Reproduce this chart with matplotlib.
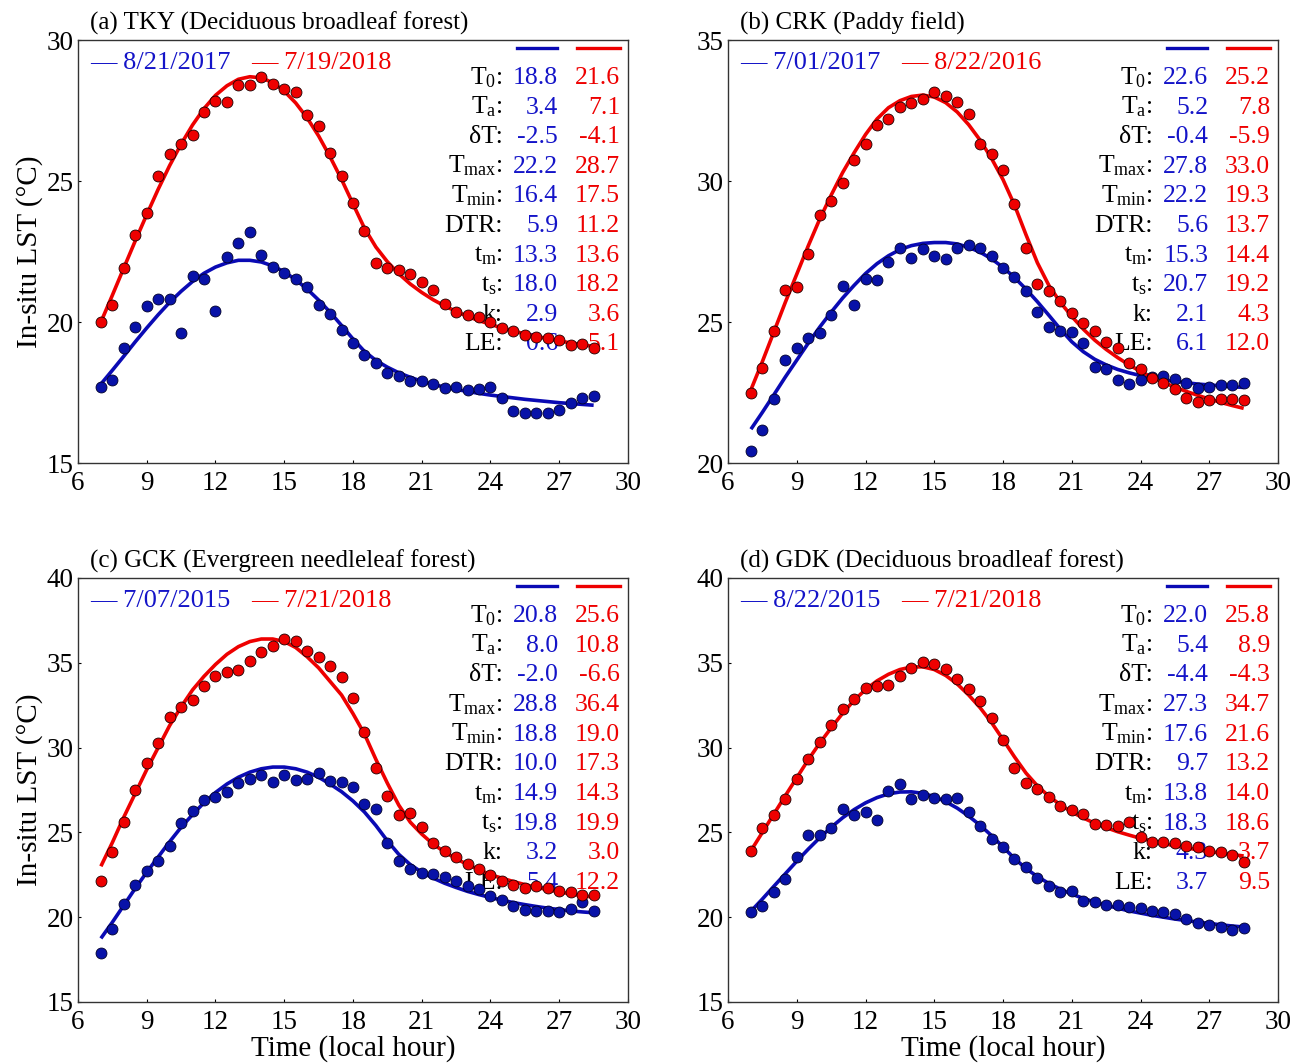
import numpy as np
import matplotlib
matplotlib.use('Agg')
import matplotlib.pyplot as plt

plt.rcParams['font.family'] = ['Liberation Serif', 'DejaVu Serif']
plt.rcParams['mathtext.fontset'] = 'custom'
plt.rcParams['mathtext.rm'] = 'Liberation Serif'
plt.rcParams['mathtext.it'] = 'Liberation Serif:italic'

# half-hourly local time, 7:00 to 28:30
hours = np.arange(7, 28.75, 0.5)

# ---- (a) TKY ----
tky_blue_obs = [17.68, 17.95, 19.09, 19.81, 20.57, 20.80, 20.80, 19.61, 21.63, 21.53, 20.39, 22.29,
                22.82, 23.20, 22.39, 21.96, 21.75, 21.53, 21.23, 20.60, 20.28, 19.72, 19.25, 18.82,
                18.54, 18.18, 18.09, 17.91, 17.91, 17.81, 17.65, 17.71, 17.59, 17.63, 17.69, 17.30,
                16.86, 16.79, 16.79, 16.79, 16.89, 17.12, 17.30, 17.38]
tky_red_obs = [20.00, 20.60, 21.90, 23.07, 23.88, 25.17, 25.96, 26.30, 26.62, 27.44, 27.85, 27.80,
               28.40, 28.40, 28.70, 28.44, 28.27, 28.15, 27.35, 26.96, 25.99, 25.18, 24.21, 23.23,
               22.11, 21.92, 21.83, 21.70, 21.41, 21.14, 20.64, 20.37, 20.25, 20.19, 20.00, 19.78,
               19.68, 19.55, 19.46, 19.42, 19.36, 19.17, 19.21, 19.07]
tky_blue_fit = [17.80, 18.29, 18.79, 19.30, 19.79, 20.26, 20.70, 21.09, 21.44, 21.73, 21.95, 22.10,
                22.19, 22.19, 22.13, 21.99, 21.78, 21.50, 21.17, 20.78, 20.35, 19.88, 19.40, 18.96,
                18.64, 18.40, 18.20, 18.04, 17.90, 17.79, 17.69, 17.61, 17.54, 17.47, 17.41, 17.36,
                17.31, 17.26, 17.22, 17.18, 17.14, 17.11, 17.08, 17.05]
tky_red_fit = [20.00, 20.95, 21.92, 22.88, 23.81, 24.71, 25.55, 26.31, 26.99, 27.57, 28.04, 28.38,
               28.61, 28.70, 28.66, 28.49, 28.19, 27.77, 27.24, 26.60, 25.86, 25.06, 24.19, 23.33,
               22.66, 22.14, 21.71, 21.35, 21.05, 20.79, 20.57, 20.38, 20.20, 20.05, 19.92, 19.79,
               19.68, 19.58, 19.49, 19.41, 19.33, 19.26, 19.20, 19.13]

# ---- (b) CRK ----
crk_blue_obs = [20.41, 21.18, 22.28, 23.66, 24.07, 24.42, 24.62, 25.25, 26.27, 25.60, 26.54, 26.50,
                27.13, 27.64, 27.28, 27.60, 27.33, 27.24, 27.64, 27.72, 27.61, 27.33, 26.90, 26.60,
                26.10, 25.37, 24.81, 24.69, 24.66, 24.27, 23.42, 23.34, 22.95, 22.81, 22.95, 23.04,
                23.07, 22.97, 22.85, 22.65, 22.69, 22.75, 22.75, 22.83]
crk_red_obs = [22.48, 23.38, 24.69, 26.13, 26.23, 27.43, 28.81, 29.28, 29.93, 30.75, 31.32, 32.00,
               32.21, 32.62, 32.77, 32.91, 33.15, 33.00, 32.79, 32.38, 31.32, 30.97, 30.40, 29.17,
               27.63, 26.34, 26.11, 25.75, 25.33, 24.95, 24.69, 24.30, 24.07, 23.56, 23.34, 23.00,
               22.85, 22.62, 22.30, 22.16, 22.24, 22.28, 22.28, 22.24]
crk_blue_fit = [21.20, 21.80, 22.42, 23.05, 23.65, 24.25, 24.82, 25.35, 25.85, 26.30, 26.72, 27.07,
                27.35, 27.57, 27.71, 27.79, 27.82, 27.82, 27.77, 27.65, 27.48, 27.24, 26.94, 26.58,
                26.17, 25.72, 25.24, 24.75, 24.30, 23.95, 23.68, 23.48, 23.32, 23.20, 23.10, 23.02,
                22.95, 22.90, 22.85, 22.80, 22.77, 22.74, 22.71, 22.68]
crk_red_fit = [22.60, 23.60, 24.65, 25.70, 26.70, 27.70, 28.65, 29.50, 30.30, 31.00, 31.65, 32.20,
               32.60, 32.85, 33.00, 33.05, 32.98, 32.78, 32.45, 32.00, 31.45, 30.80, 30.05, 29.15,
               28.10, 27.10, 26.30, 25.70, 25.20, 24.75, 24.36, 24.03, 23.74, 23.48, 23.25, 23.04,
               22.86, 22.69, 22.54, 22.40, 22.27, 22.15, 22.04, 21.94]

# ---- (c) GCK ----
gck_blue_obs = [17.88, 19.30, 20.79, 21.87, 22.75, 23.32, 24.20, 25.54, 26.28, 26.91, 27.07, 27.36,
                27.89, 28.15, 28.38, 27.99, 28.38, 28.09, 28.15, 28.52, 28.03, 27.95, 27.66, 26.66,
                26.36, 24.36, 23.32, 22.85, 22.59, 22.53, 22.34, 22.16, 21.81, 21.67, 21.22, 21.02,
                20.63, 20.44, 20.38, 20.34, 20.28, 20.49, 20.89, 20.38]
gck_red_obs = [22.14, 23.83, 25.64, 27.50, 29.07, 30.25, 31.82, 32.41, 32.80, 33.64, 34.21, 34.47,
               34.60, 35.11, 35.64, 35.98, 36.43, 36.29, 35.68, 35.35, 34.82, 34.17, 32.94, 30.93,
               28.77, 27.15, 26.03, 26.13, 25.29, 24.40, 23.91, 23.52, 23.12, 22.83, 22.50, 22.14,
               21.87, 21.71, 21.81, 21.71, 21.55, 21.46, 21.32, 21.28]
gck_blue_fit = [18.75, 19.70, 20.70, 21.70, 22.65, 23.55, 24.45, 25.30, 26.05, 26.75, 27.35, 27.85,
                28.25, 28.55, 28.75, 28.85, 28.85, 28.75, 28.55, 28.25, 27.85, 27.40, 26.85, 26.20,
                25.40, 24.50, 23.70, 23.10, 22.65, 22.30, 22.00, 21.75, 21.52, 21.33, 21.16, 21.00,
                20.86, 20.74, 20.63, 20.53, 20.45, 20.37, 20.31, 20.26]
gck_red_fit = [23.00, 24.40, 25.90, 27.30, 28.70, 30.00, 31.30, 32.40, 33.40, 34.20, 34.90, 35.50,
               35.95, 36.25, 36.40, 36.40, 36.25, 35.90, 35.35, 34.70, 33.90, 33.10, 32.00, 30.80,
               29.30, 27.90, 26.60, 25.60, 24.90, 24.30, 23.85, 23.45, 23.10, 22.80, 22.50, 22.30,
               22.10, 21.92, 21.76, 21.62, 21.49, 21.37, 21.27, 21.18]

# ---- (d) GDK ----
gdk_blue_obs = [20.29, 20.65, 21.51, 22.25, 23.57, 24.82, 24.82, 25.27, 26.37, 26.04, 26.18, 25.75,
                27.45, 27.84, 26.96, 27.20, 27.00, 26.98, 27.00, 26.18, 25.39, 24.60, 24.16, 23.43,
                22.94, 22.29, 21.86, 21.51, 21.57, 20.98, 20.88, 20.73, 20.69, 20.59, 20.53, 20.39,
                20.29, 20.20, 19.90, 19.67, 19.55, 19.41, 19.27, 19.35]
gdk_red_obs = [23.92, 25.24, 26.02, 26.96, 28.14, 29.31, 30.35, 31.33, 32.25, 32.84, 33.53, 33.63,
               33.67, 34.22, 34.67, 35.04, 34.90, 34.61, 34.06, 33.43, 32.75, 31.73, 30.43, 28.78,
               27.90, 27.55, 27.06, 26.53, 26.31, 26.08, 25.49, 25.43, 25.35, 25.60, 24.75, 24.45,
               24.41, 24.35, 24.22, 24.12, 23.92, 23.86, 23.67, 23.24]
gdk_blue_fit = [20.35, 21.07, 21.82, 22.56, 23.30, 24.01, 24.68, 25.30, 25.86, 26.34, 26.74, 27.05,
                27.27, 27.38, 27.39, 27.30, 27.11, 26.81, 26.43, 25.96, 25.42, 24.81, 24.14, 23.46,
                22.87, 22.39, 21.99, 21.65, 21.36, 21.11, 20.89, 20.70, 20.53, 20.37, 20.24, 20.11,
                20.00, 19.89, 19.80, 19.71, 19.63, 19.55, 19.48, 19.42]
gdk_red_fit = [23.92, 25.00, 26.08, 27.16, 28.22, 29.28, 30.26, 31.16, 32.02, 32.78, 33.42, 33.93,
               34.32, 34.60, 34.75, 34.76, 34.60, 34.25, 33.75, 33.10, 32.35, 31.47, 30.47, 29.45,
               28.50, 27.74, 27.13, 26.63, 26.20, 25.85, 25.54, 25.28, 25.04, 24.84, 24.65, 24.49,
               24.34, 24.21, 24.09, 23.97, 23.87, 23.78, 23.69, 23.61]

# fitted parameters table
param_labels = [r'$\mathrm{T_0}$:', r'$\mathrm{T_a}$:', 'δT:', r'$\mathrm{T_{max}}$:',
                r'$\mathrm{T_{min}}$:', 'DTR:', r'$\mathrm{t_m}$:', r'$\mathrm{t_s}$:', 'k:', 'LE:']
tky_params_blue = ['18.8', '3.4', '-2.5', '22.2', '16.4', '5.9', '13.3', '18.0', '2.9', '0.6']
tky_params_red = ['21.6', '7.1', '-4.1', '28.7', '17.5', '11.2', '13.6', '18.2', '3.6', '5.1']
crk_params_blue = ['22.6', '5.2', '-0.4', '27.8', '22.2', '5.6', '15.3', '20.7', '2.1', '6.1']
crk_params_red = ['25.2', '7.8', '-5.9', '33.0', '19.3', '13.7', '14.4', '19.2', '4.3', '12.0']
gck_params_blue = ['20.8', '8.0', '-2.0', '28.8', '18.8', '10.0', '14.9', '19.8', '3.2', '5.4']
gck_params_red = ['25.6', '10.8', '-6.6', '36.4', '19.0', '17.3', '14.3', '19.9', '3.0', '12.2']
gdk_params_blue = ['22.0', '5.4', '-4.4', '27.3', '17.6', '9.7', '13.8', '18.3', '4.3', '3.7']
gdk_params_red = ['25.8', '8.9', '-4.3', '34.7', '21.6', '13.2', '14.0', '18.6', '3.7', '9.5']

BLUE_LINE = '#0a0ab4'
BLUE_DOT = '#0812a8'
BLUE_TXT = '#1414c8'
RED = '#ee0000'

fig = plt.figure(figsize=(13.04, 10.63), dpi=100)
ax_a = fig.add_axes([0.0598, 0.5644, 0.4218, 0.3979])
ax_b = fig.add_axes([0.5583, 0.5644, 0.4218, 0.3979])
ax_c = fig.add_axes([0.0598, 0.0574, 0.4218, 0.3989])
ax_d = fig.add_axes([0.5583, 0.0574, 0.4218, 0.3989])


def draw_panel(ax, title, dates, blue_obs, red_obs, blue_fit, red_fit,
               pb, pr, ylim, yticks):
    ax.plot(hours, blue_fit, color=BLUE_LINE, lw=2.6, zorder=3, solid_capstyle='butt')
    ax.plot(hours, red_fit, color=RED, lw=2.6, zorder=3, solid_capstyle='butt')
    ax.scatter(hours, blue_obs, s=62, c=BLUE_DOT, edgecolors='#00002a',
               linewidths=0.6, zorder=4)
    ax.scatter(hours, red_obs, s=62, c=RED, edgecolors='#1a0000',
               linewidths=0.6, zorder=4)

    ax.set_xlim(6, 30)
    ax.set_xticks(range(6, 31, 3))
    ax.set_ylim(*ylim)
    ax.set_yticks(yticks)
    ax.tick_params(labelsize=19.5, direction='in', length=2.5, width=0.8)
    ax.tick_params(axis='x', pad=6)
    ax.tick_params(axis='y', pad=3)
    for sp in ax.spines.values():
        sp.set_linewidth(1.0)
        sp.set_color('#333333')

    ax.text(0.022, 1.025, title, fontsize=18, transform=ax.transAxes,
            ha='left', va='baseline')

    # date legend
    ax.text(0.022, 0.931, '— ' + dates[0], color=BLUE_TXT, fontsize=19,
            transform=ax.transAxes, ha='left', va='baseline')
    ax.text(0.3145, 0.931, '— ' + dates[1], color=RED, fontsize=19,
            transform=ax.transAxes, ha='left', va='baseline')

    # parameter table
    ax.plot([0.798, 0.871], [0.981, 0.981], color=BLUE_LINE, lw=2.4,
            transform=ax.transAxes, clip_on=False)
    ax.plot([0.907, 0.985], [0.981, 0.981], color=RED, lw=2.4,
            transform=ax.transAxes, clip_on=False)
    for i, lab in enumerate(param_labels):
        yb = 1 - (44 + 29.6 * i) / 423
        ax.text(0.772, yb, lab, fontsize=18.5, transform=ax.transAxes,
                ha='right', va='baseline', zorder=2)
        ax.text(0.873, yb, pb[i], fontsize=18.5, color=BLUE_TXT,
                transform=ax.transAxes, ha='right', va='baseline', zorder=2)
        ax.text(0.9855, yb, pr[i], fontsize=18.5, color=RED,
                transform=ax.transAxes, ha='right', va='baseline', zorder=2)


draw_panel(ax_a, '(a) TKY (Deciduous broadleaf forest)', ['8/21/2017', '7/19/2018'],
           tky_blue_obs, tky_red_obs, tky_blue_fit, tky_red_fit,
           tky_params_blue, tky_params_red, (15, 30), [15, 20, 25, 30])
draw_panel(ax_b, '(b) CRK (Paddy field)', ['7/01/2017', '8/22/2016'],
           crk_blue_obs, crk_red_obs, crk_blue_fit, crk_red_fit,
           crk_params_blue, crk_params_red, (20, 35), [20, 25, 30, 35])
draw_panel(ax_c, '(c) GCK (Evergreen needleleaf forest)', ['7/07/2015', '7/21/2018'],
           gck_blue_obs, gck_red_obs, gck_blue_fit, gck_red_fit,
           gck_params_blue, gck_params_red, (15, 40), [15, 20, 25, 30, 35, 40])
draw_panel(ax_d, '(d) GDK (Deciduous broadleaf forest)', ['8/22/2015', '7/21/2018'],
           gdk_blue_obs, gdk_red_obs, gdk_blue_fit, gdk_red_fit,
           gdk_params_blue, gdk_params_red, (15, 40), [15, 20, 25, 30, 35, 40])

for ax in (ax_a, ax_c):
    ax.set_ylabel('In-situ LST (°C)', fontsize=21, labelpad=3)
for ax in (ax_c, ax_d):
    ax.set_xlabel('Time (local hour)', fontsize=21, labelpad=0)

fig.savefig('out.png', dpi=100)
